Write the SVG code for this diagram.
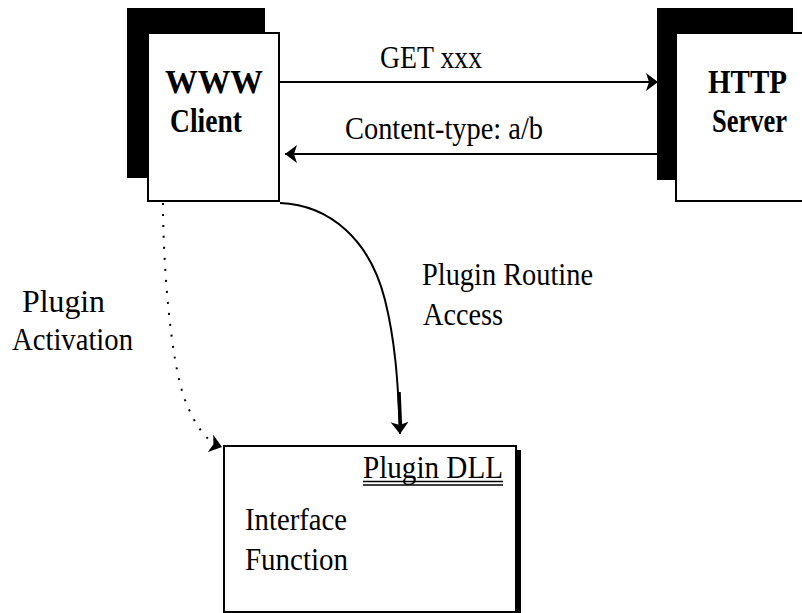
<svg xmlns="http://www.w3.org/2000/svg" width="802" height="613" viewBox="0 0 802 613">
<style>
.box{fill:#fff;stroke:#000;stroke-width:2}
.shadow{fill:#000}
.t{font-family:"Liberation Serif","Times New Roman",serif;font-size:32px;fill:#000}
.b{font-weight:bold;font-size:34px}
.ln{fill:none;stroke:#000;stroke-width:2}
</style>
<defs>
<marker id="ah" markerUnits="userSpaceOnUse" markerWidth="14" markerHeight="20" refX="12" refY="10" orient="auto" viewBox="0 0 14 20">
<path d="M0,1 L12,10 L0,19 L3,10 Z" fill="#000"/>
</marker>
</defs>
<rect width="802" height="613" fill="#fff"/>
<g id="client">
<rect class="shadow" x="127" y="8" width="138" height="170"/>
<rect class="box" x="148" y="33" width="131" height="168"/>
<text class="t b" x="165" y="93" textLength="98" lengthAdjust="spacingAndGlyphs">WWW</text>
<text class="t b" x="170" y="132" textLength="72" lengthAdjust="spacingAndGlyphs">Client</text>
</g>
<g id="server">
<rect class="shadow" x="657" y="8" width="136" height="172"/>
<rect class="box" x="676" y="33" width="127" height="168"/>
<text class="t b" x="708" y="93" textLength="79" lengthAdjust="spacingAndGlyphs">HTTP</text>
<text class="t b" transform="translate(712,132) scale(0.78,1)" x="0" y="0">Server</text>
</g>
<g id="plugin-dll">
<rect class="shadow" x="515" y="450" width="6" height="163"/>
<rect class="box" x="224" y="446" width="292" height="166"/>
<text class="t" x="363" y="478" textLength="140" lengthAdjust="spacingAndGlyphs">Plugin DLL</text>
<line x1="363" y1="481.5" x2="503" y2="481.5" stroke="#000" stroke-width="1.5"/>
<line x1="363" y1="485" x2="503" y2="485" stroke="#000" stroke-width="1.5"/>
<text class="t" x="245" y="530" textLength="102" lengthAdjust="spacingAndGlyphs">Interface</text>
<text class="t" x="245" y="570" textLength="103" lengthAdjust="spacingAndGlyphs">Function</text>
</g>
<g id="connectors">
<line class="ln" x1="280" y1="82" x2="658" y2="82" marker-end="url(#ah)"/>
<line class="ln" x1="657" y1="154" x2="285" y2="154" marker-end="url(#ah)"/>
<path class="ln" d="M280,203 C330,205 370,240 385,300 C395,340 398,380 400,434" marker-end="url(#ah)"/>
<line x1="399" y1="392" x2="400.5" y2="428" stroke="#000" stroke-width="3.5"/>
<path class="ln" d="M163,203 C163,260 170,360 185,400 C195,425 206,442 222,447" stroke-dasharray="2,9" marker-end="url(#ah)"/>
</g>
<g id="labels">
<text class="t" x="380" y="68" textLength="102" lengthAdjust="spacingAndGlyphs">GET xxx</text>
<text class="t" x="345" y="139" textLength="198" lengthAdjust="spacingAndGlyphs">Content-type: a/b</text>
<text class="t" x="422" y="285" textLength="171" lengthAdjust="spacingAndGlyphs">Plugin Routine</text>
<text class="t" x="423" y="325" textLength="80" lengthAdjust="spacingAndGlyphs">Access</text>
<text class="t" x="22" y="312" textLength="83" lengthAdjust="spacingAndGlyphs">Plugin</text>
<text class="t" x="12" y="350" textLength="121" lengthAdjust="spacingAndGlyphs">Activation</text>
</g>
</svg>
